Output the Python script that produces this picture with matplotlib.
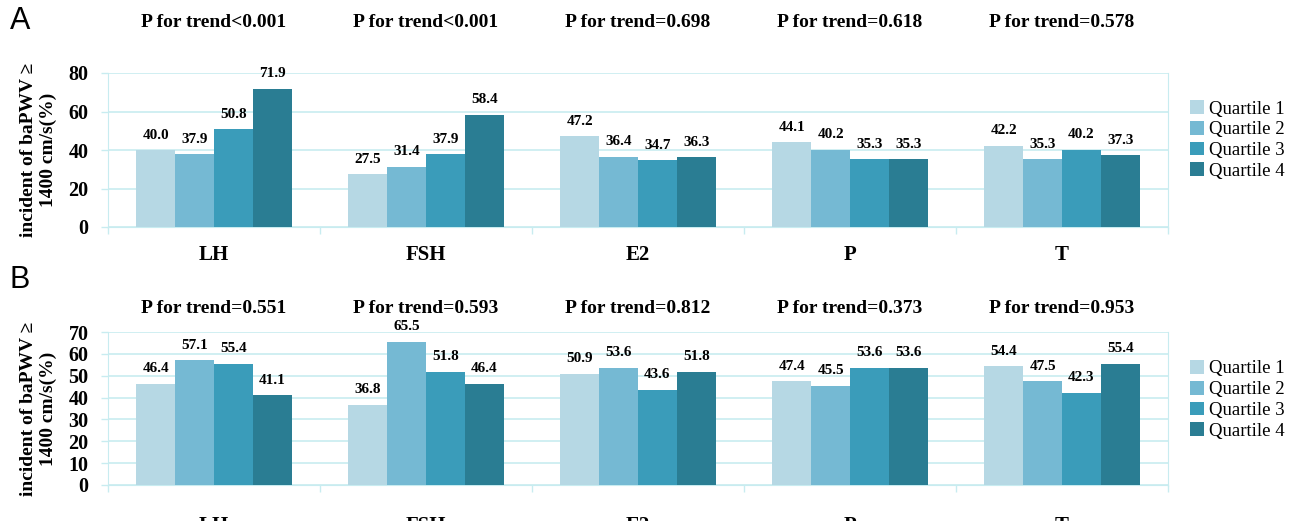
import matplotlib
matplotlib.use("Agg")
import matplotlib.pyplot as plt
import matplotlib.transforms as mtransforms
import numpy as np

# data
hormones = ['LH', 'FSH', 'E2', 'P', 'T']
quartiles = ['Quartile 1', 'Quartile 2', 'Quartile 3', 'Quartile 4']

# panel A (rows = hormones, columns = quartile 1..4)
values_a = [
    [40.0, 37.9, 50.8, 71.9],
    [27.5, 31.4, 37.9, 58.4],
    [47.2, 36.4, 34.7, 36.3],
    [44.1, 40.2, 35.3, 35.3],
    [42.2, 35.3, 40.2, 37.3],
]
trend_a = ['<0.001', '<0.001', '=0.698', '=0.618', '=0.578']

# panel B
values_b = [
    [46.4, 57.1, 55.4, 41.1],
    [36.8, 65.5, 51.8, 46.4],
    [50.9, 53.6, 43.6, 51.8],
    [47.4, 45.5, 53.6, 53.6],
    [54.4, 47.5, 42.3, 55.4],
]
trend_b = ['=0.551', '=0.593', '=0.812', '=0.373', '=0.953']

yticks_a = [0, 20, 40, 60, 80]
yticks_b = [0, 10, 20, 30, 40, 50, 60, 70]

colors = ['#b6d8e4', '#75b9d3', '#3a9cba', '#2a7d93']
grid_color = '#c8ecf0'
serif = ['Liberation Serif', 'DejaVu Serif']

W, H = 1298, 521
fig = plt.figure(figsize=(W / 100, H / 100), dpi=100)


def px_axes(left, top, right, bottom):
    return fig.add_axes([left / W, 1 - bottom / H, (right - left) / W, (bottom - top) / H])


def draw_panel(ax, data, trends, yticks, title_y, label_y, legend_y, letter, letter_y):
    data = np.array(data)
    n_groups, n_bars = data.shape
    bar_w = 0.183
    x = np.arange(n_groups)
    for j in range(n_bars):
        pos = x - 1.5 * bar_w + j * bar_w
        bars = ax.bar(pos, data[:, j], width=bar_w, color=colors[j],
                      label=quartiles[j], zorder=3)
        for b, v in zip(bars, data[:, j]):
            ax.text(b.get_x() + b.get_width() / 2, v + yticks[-1] * 0.055,
                    '{:.1f}'.format(v), ha='center', va='bottom',
                    fontsize=11, fontweight='bold', family=serif)

    ax.set_xlim(-0.5, n_groups - 0.5)
    ax.set_ylim(0, yticks[-1])
    ax.set_yticks(yticks)
    ax.set_yticklabels([str(t) for t in yticks], fontsize=14.5,
                       fontweight='bold', family=serif)
    ax.set_xticks(np.arange(n_groups + 1) - 0.5)
    ax.set_xticklabels([])
    ax.tick_params(axis='both', color=grid_color, length=5, width=1)
    ax.tick_params(axis='y', pad=9)
    ax.yaxis.grid(True, color=grid_color, linewidth=1.2, zorder=0)
    for side in ['left', 'right', 'bottom']:
        ax.spines[side].set_color(grid_color)
    ax.spines['top'].set_visible(False)

    trans = mtransforms.blended_transform_factory(ax.transData, ax.transAxes)
    for i, (name, tr) in enumerate(zip(hormones, trends)):
        ax.text(i, title_y, 'P for trend' + tr, transform=trans, ha='center',
                va='center', fontsize=14, fontweight='bold', family=serif)
        ax.text(i, label_y, name, transform=trans, ha='center', va='top',
                fontsize=15, fontweight='bold', family=serif)

    ax.set_ylabel('incident of baPWV \u2265\n1400 cm/s(%)', fontsize=14,
                  fontweight='bold', family=serif, linespacing=1.25, labelpad=8)

    ax.legend(loc='center left', bbox_to_anchor=(1.005, legend_y),
              frameon=False, handlelength=0.75, handleheight=0.75,
              handletextpad=0.25, labelspacing=0.18,
              prop={'family': serif, 'size': 13.5})
    fig.text(10 / W, 1 - letter_y / H, letter, fontsize=22, va='center',
             family=['Liberation Sans', 'DejaVu Sans'])


ax_a = px_axes(108, 73, 1168, 227)
draw_panel(ax_a, values_a, trend_a, yticks_a, 1.33, -0.115, 0.565, 'A', 21)

ax_b = px_axes(108, 332, 1168, 485)
draw_panel(ax_b, values_b, trend_b, yticks_b, 1.155, -0.2, 0.556, 'B', 280)

fig.savefig('out.png', dpi=100)
